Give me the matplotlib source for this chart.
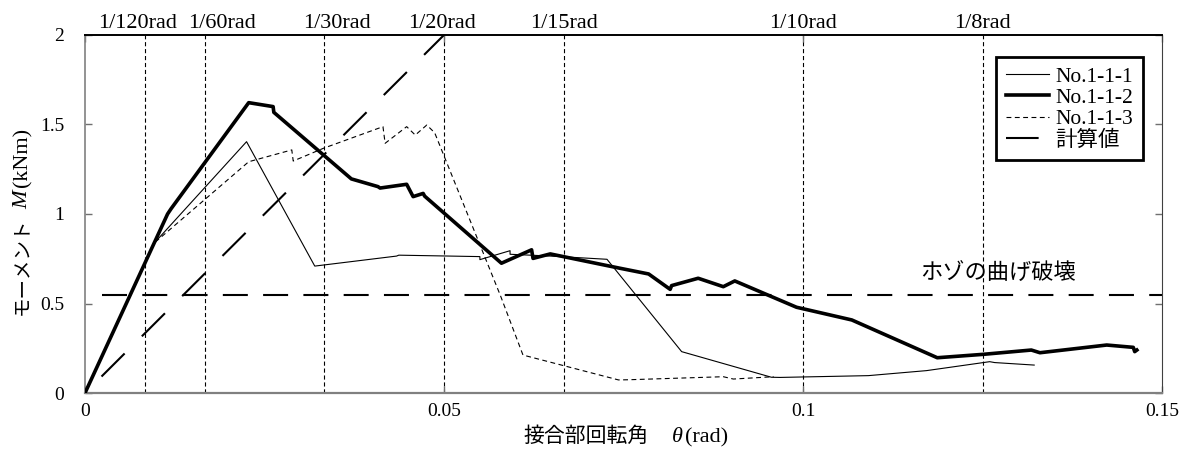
import matplotlib
matplotlib.use('Agg')
import matplotlib.pyplot as plt
import matplotlib.transforms as mtransforms

plt.rcParams['lines.scale_dashes'] = False

# ---- data ----
theta_1 = [0, 0.0097, 0.0225, 0.0320, 0.0434, 0.0437, 0.0550, 0.0550, 0.0592, 0.0592,
           0.0648, 0.0727, 0.0831, 0.0956, 0.0968, 0.1091, 0.1172, 0.1260, 0.1267, 0.1322]
M_1 = [0, 0.84, 1.404, 0.709, 0.765, 0.770, 0.762, 0.745, 0.795, 0.775,
       0.765, 0.747, 0.231, 0.088, 0.087, 0.097, 0.125, 0.175, 0.170, 0.156]

theta_2 = [0, 0.0115, 0.0120, 0.0228, 0.0262, 0.0263, 0.0371, 0.0408, 0.0411, 0.0448,
           0.0457, 0.0471, 0.0473, 0.0580, 0.0622, 0.0624, 0.0648, 0.0745, 0.0785, 0.0815,
           0.0817, 0.0854, 0.0889, 0.0905, 0.0991, 0.1068, 0.1187, 0.1251, 0.1318, 0.1330,
           0.1423, 0.1460, 0.1462, 0.1465]
M_2 = [0, 1.00, 1.03, 1.622, 1.600, 1.568, 1.196, 1.153, 1.145, 1.166,
       1.097, 1.115, 1.100, 0.725, 0.800, 0.752, 0.777, 0.697, 0.665, 0.579,
       0.600, 0.641, 0.594, 0.626, 0.479, 0.408, 0.197, 0.216, 0.240, 0.225,
       0.268, 0.255, 0.231, 0.240]

theta_3 = [0, 0.0097, 0.0228, 0.0288, 0.0290, 0.0332, 0.0415, 0.0418, 0.0448, 0.0460,
           0.0476, 0.0487, 0.0579, 0.0610, 0.0743, 0.0757, 0.0889, 0.0903, 0.0959]
M_3 = [0, 0.84, 1.292, 1.358, 1.296, 1.367, 1.488, 1.395, 1.488, 1.441,
       1.497, 1.454, 0.540, 0.212, 0.073, 0.074, 0.091, 0.078, 0.091]

calc_theta = [0.0023, 0.05]
calc_M = [0.092, 2.0]

tenon_theta = [0.0023, 0.15]
tenon_M = [0.545, 0.545]

rad_lines = [1/120, 1/60, 1/30, 1/20, 1/15, 1/10, 1/8]
rad_labels = ['1/120rad', '1/60rad', '1/30rad', '1/20rad', '1/15rad', '1/10rad', '1/8rad']
rad_label_shift = [-7, 17, 13, -2, 0, 0, 0]   # px, hand placed in original

series_labels = ['No.1-1-1', 'No.1-1-2', 'No.1-1-3', '計算値']

SERIF = ['Liberation Serif', 'Noto Sans CJK JP']
CJK = ['Noto Sans CJK JP', 'Liberation Serif']

W, H = 1184, 451
fig = plt.figure(figsize=(W / 100, H / 100), dpi=100)
ax = fig.add_axes([85 / W, 1 - 393 / H, 1077 / W, 358 / H])

for xv in rad_lines:
    ax.axvline(xv, color='black', lw=0.8, ls=(0, (3, 2)), zorder=1)

ax.plot(theta_1, M_1, color='black', lw=0.8, label=series_labels[0], zorder=3)
ax.plot(theta_2, M_2, color='black', lw=2.6, label=series_labels[1], zorder=4)
ax.plot(theta_3, M_3, color='black', lw=0.8, ls=(0, (3.5, 2.5)), label=series_labels[2], zorder=3)
ax.plot(calc_theta, calc_M, color='black', lw=1.5, ls=(0, (23.5, 17.5)), label=series_labels[3], zorder=2)
ax.plot(tenon_theta, tenon_M, color='black', lw=1.5, ls=(0, (18, 11)), zorder=2)

ax.text(0.1271, 0.665, 'ホゾの曲げ破壊', family=CJK, fontsize=16, ha='center', va='center')

ax.set_xlim(0, 0.15)
ax.set_ylim(0, 2)
ax.set_xticks([0, 0.05, 0.1, 0.15])
ax.set_xticklabels(['0', '0.05', '0.1', '0.15'])
ax.set_yticks([0, 0.5, 1, 1.5, 2])
ax.set_yticklabels(['0', '0.5', '1', '1.5', '2'])
ax.tick_params(direction='in', length=5, width=1, color='#707070',
               top=True, right=True, labelsize=14)
ax.tick_params(axis='y', pad=15)
ax.tick_params(axis='x', pad=7)
for lab in ax.get_xticklabels() + ax.get_yticklabels():
    lab.set_family(SERIF)

ax.spines['left'].set_color('#808080')
ax.spines['bottom'].set_color('#808080')
ax.spines['left'].set_linewidth(1.2)
ax.spines['bottom'].set_linewidth(1.6)
ax.spines['top'].set_linewidth(1.4)
ax.spines['right'].set_color('#404040')

# labels of the rotation-angle lines above the frame
for xv, txt, dx in zip(rad_lines, rad_labels, rad_label_shift):
    tr = mtransforms.offset_copy(ax.get_xaxis_transform(), fig=fig, x=dx, y=1.5, units='dots')
    ax.text(xv, 1.0, txt, transform=tr, ha='center', va='bottom', family=SERIF, fontsize=16)

leg = ax.legend(loc='upper right', bbox_to_anchor=(0.982, 0.9385), borderaxespad=0,
                prop={'family': SERIF, 'size': 15.5}, fancybox=False, framealpha=1,
                edgecolor='black', handlelength=2.0, handletextpad=0.3,
                labelspacing=0.05, borderpad=0.45)
leg.get_frame().set_linewidth(2)


def put_pieces(pieces, x0, y0, vertical=False):
    # lay text pieces end to end, centred on (x0, y0) in pixels from top-left
    renderer = fig.canvas.get_renderer()
    texts = []
    lengths = []
    for s, fam, style, size, gap in pieces:
        t = fig.text(0, 0, s, family=fam, style=style, fontsize=size,
                     rotation=90 if vertical else 0, rotation_mode='anchor',
                     ha='left', va='baseline')
        bb = t.get_window_extent(renderer)
        texts.append(t)
        lengths.append((bb.height if vertical else bb.width) + gap)
    pos = -sum(lengths) / 2
    for t, ln in zip(texts, lengths):
        if vertical:
            t.set_position((x0 / W, 1 - (y0 - pos) / H))
        else:
            t.set_position(((x0 + pos) / W, 1 - y0 / H))
        pos += ln


put_pieces([('接合部回転角', CJK, 'normal', 15, 23),
            ('θ', SERIF, 'italic', 16, 2),
            ('(rad)', SERIF, 'normal', 16, 0)], 626, 442)
put_pieces([('モーメント', CJK, 'normal', 14, 8),
            ('M', SERIF, 'italic', 16, 4),
            ('(kNm)', SERIF, 'normal', 16, 0)], 27, 221, vertical=True)

fig.savefig('out.png', dpi=100)
